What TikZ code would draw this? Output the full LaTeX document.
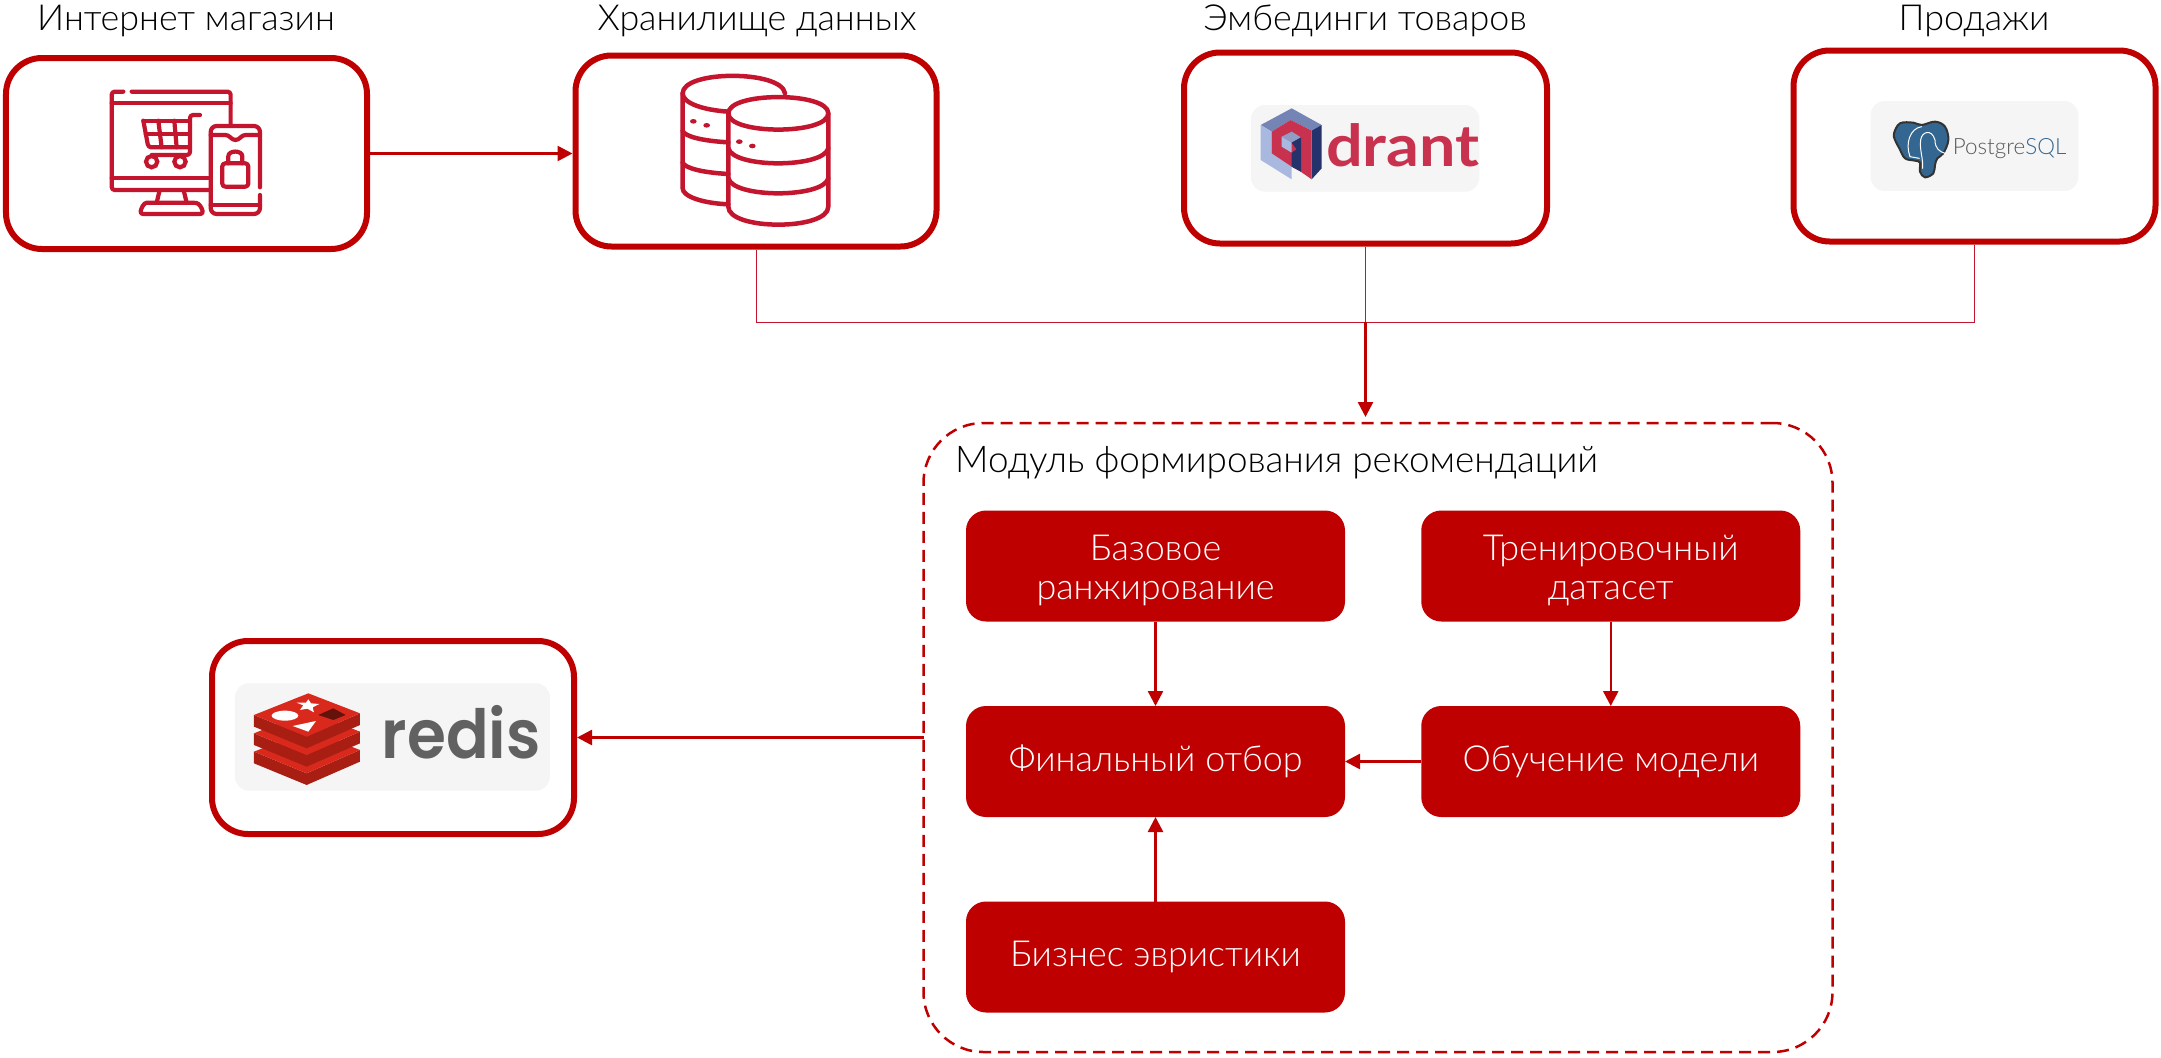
\documentclass[tikz,border=0pt]{standalone}
\usepackage{fontspec}
\usetikzlibrary{arrows.meta}
\setmainfont{Lato}[UprightFont=* Light,BoldFont=* Bold]
\newfontfamily\logofont{Poppins}[UprightFont=* SemiBold]
\newfontfamily\pgfontx{Lato}[UprightFont=* Light]
\definecolor{brand}{HTML}{BF0000}
\definecolor{icon}{HTML}{C4152E}
\definecolor{logobg}{HTML}{F5F5F5}
\definecolor{qred}{HTML}{C8324F}
\definecolor{qtop}{HTML}{7484B5}
\definecolor{qlight}{HTML}{A9B8DF}
\definecolor{qdark}{HTML}{25326B}
\definecolor{pgblue}{HTML}{336791}
\definecolor{rtop}{HTML}{D9291C}
\definecolor{rside}{HTML}{A81E12}
\tikzset{
  srcbox/.style={draw=brand,line width=6bp,rounded corners=36bp,fill=white,minimum width=#1,minimum height=191bp,inner sep=0pt,outer sep=3bp},
  srcbox/.default=362bp,
  stepbox/.style={fill=brand,rounded corners=20bp,minimum width=379bp,minimum height=111bp,inner sep=0pt,outer sep=0pt,text=white,align=center,font=\fontsize{36}{38.5}\selectfont},
  caption/.style={anchor=base,text=black,inner sep=0pt,font=\fontsize{36}{38}\selectfont},
  thick line/.style={draw=brand,line width=2.5bp,-{Triangle[length=15bp,width=15bp]}},
  thin line/.style={draw=icon,line width=1bp},
  iconline/.style={draw=icon,line width=4.2bp,line cap=round,line join=round,rounded corners=3bp},
  logopanel/.style={fill=logobg,rounded corners=14bp,inner sep=0pt,outer sep=0pt},
}
\begin{document}
\begin{tikzpicture}[x=1bp,y=-1bp]
\useasboundingbox (0,0) rectangle (2161,1058);

% source boxes
\node[srcbox=361bp] (shop) at (186.5,153.5) {};
\node[srcbox=361bp] (store) at (756,151) {};
\node[srcbox=363bp] (emb) at (1365.5,148) {};
\node[srcbox=362bp] (sales) at (1974.5,146) {};
\node[srcbox=362bp,minimum height=193bp] (redis) at (393,737.5) {};

% captions
\node[caption] (capshop) at (186,30) {Интернет магазин};
\node[caption] (capstore) at (757,30) {Хранилище данных};
\node[caption] (capemb) at (1365,30) {Эмбединги товаров};
\node[caption] (capsales) at (1974,30) {Продажи};

% module
\node[draw=brand,line width=2.5bp,dash pattern=on 12bp off 7bp,rounded corners=60bp,minimum width=909bp,minimum height=629bp,inner sep=0pt,outer sep=0pt] (module) at (1378,737.5) {};
\node[caption,anchor=base west,font=\fontsize{37}{38}\selectfont] (captitle) at (955,472) {Модуль формирования рекомендаций};

\node[stepbox] (base) at (1155.5,566) {\rule{0pt}{34bp}Базовое\\ранжирование};
\node[stepbox] (train) at (1610.75,566) {\rule{0pt}{34bp}Тренировочный\\датасет};
\node[stepbox] (final) at (1155.5,761.5) {Финальный отбор};
\node[stepbox] (fit) at (1610.75,761.5) {Обучение модели};
\node[stepbox] (biz) at (1155.5,957) {Бизнес эвристики};

% connectors
\coordinate (join) at (emb.south |- 0,322);
\draw[thick line] (shop.east) -- (store.west |- shop.east);
\draw[thin line] (store.south) |- (join);
\draw[thin line] (sales.south) |- (join);
\draw[thin line] (emb.south) -- (join);
\draw[thick line,shorten >=6bp] (join) -- (join |- module.north);
\draw[thick line] (module.west |- redis.east) -- (redis.east);
\draw[thick line] (base) -- (final);
\draw[thick line] (train) -- (fit);
\draw[thick line] (fit) -- (final);
\draw[thick line] (biz) -- (final);

% shop icon
\begin{scope}[shift={(80,70)},x=0.3333bp,y=-0.3333bp]
 \draw[iconline] (130,65) -- (95,65) -- (95,360) -- (390,360);
 \draw[iconline] (155,65) -- (452,65) -- (452,165);
 \draw[iconline] (95,100) -- (452,100);
 \draw[iconline] (95,325) -- (390,325);
 \draw[iconline] (238,365) -- (230,398);
 \draw[iconline] (312,365) -- (320,398);
 \draw[iconline] (200,398) -- (340,398) .. controls (358,400) and (366,415) .. (370,432) -- (180,432) .. controls (184,415) and (190,400) .. (200,398);
 \draw[iconline] (360,135) -- (330,135) -- (330,255) -- (215,255);
 \draw[iconline] (190,152) -- (330,152);
 \draw[iconline] (190,152) -- (205,232) -- (330,232);
 \draw[iconline] (197,192) -- (330,192);
 \draw[iconline] (235,152) -- (245,232);
 \draw[iconline] (283,152) -- (290,232);
 \draw[draw=icon,line width=4.2bp] (215,275) circle (17);
 \draw[draw=icon,line width=4.2bp] (300,275) circle (17);
 \draw[iconline,rounded corners=6bp] (540,352) -- (540,168) -- (392,168) -- (392,432) -- (540,432) -- (540,375);
 \draw[iconline] (392,195) -- (445,195) -- (458,210) -- (475,210) -- (488,195) -- (540,195);
 \draw[iconline] (392,405) -- (540,405);
 \draw[iconline] (427,280) rectangle (505,350);
 \draw[iconline] (445,280) -- (445,268) .. controls (445,240) and (487,240) .. (487,268) -- (487,280);
\end{scope}

% storage icon
\begin{scope}[shift={(660,60)},x=0.3333bp,y=-0.3333bp,every path/.style={draw=icon,line width=4.5bp,line cap=round,line join=round}]
 \draw (375,100) .. controls (365,30) and (68,30) .. (68,100) -- (68,385) .. controls (68,410) and (130,430) .. (205,433);
 \draw (68,100) .. controls (68,130) and (130,150) .. (205,155);
 \draw (68,213) .. controls (75,230) and (130,243) .. (205,247);
 \draw (68,308) .. controls (75,325) and (130,338) .. (205,342);
 \draw (205,160) .. controls (205,95) and (505,95) .. (505,160) .. controls (505,225) and (205,225) .. (205,160) -- cycle;
 \draw (205,160) -- (205,440) .. controls (205,512) and (505,512) .. (505,440) -- (505,160);
 \draw (205,265) .. controls (220,325) and (490,325) .. (505,265);
 \draw (205,355) .. controls (220,415) and (490,415) .. (505,355);
 \fill[icon,draw=none] (100,184) ellipse (10 and 7) (140,196) ellipse (10 and 7) (238,245) ellipse (10 and 7) (277,258) ellipse (10 and 7);
\end{scope}

% qdrant logo
\begin{scope}[shift={(1240,90)},x=0.3333bp,y=-0.3333bp]
 \fill[logopanel] (33,45) rectangle (718,305);
 \fill[qtop] (62,105) -- (155,55) -- (245,105) -- (215,122) -- (152,90) -- (95,125) -- cycle;
 \fill[qlight] (62,105) -- (95,125) -- (95,190) -- (155,230) -- (155,268) -- (62,210) -- cycle;
 \fill[qdark] (245,105) -- (245,235) -- (215,268) -- (215,122) -- cycle;
 \fill[qred] (95,125) -- (152,90) -- (215,122) -- (215,268) -- (182,245) -- (155,230) -- (95,190) -- cycle;
 \fill[qtop!80!white] (125,140) -- (155,125) -- (183,142) -- (155,158) -- cycle;
 \fill[qlight] (125,140) -- (155,158) -- (155,188) -- (125,170) -- cycle;
 \fill[qdark] (155,158) -- (183,142) -- (183,245) -- (155,230) -- (155,188) -- (170,178) -- (155,158) -- cycle;
 \node[anchor=base west,inner sep=0pt,text=qred,font=\fontsize{58}{58}\selectfont\bfseries] (qtext) at (258,230) {\scalebox{1.12}[1]{drant}};
\end{scope}

% postgres logo
\begin{scope}[shift={(1860,90)},x=0.3333bp,y=-0.3333bp]
 \fill[logopanel] (32,33) rectangle (655,303);
 \draw[fill=pgblue,draw=black!80,line width=2bp] plot[smooth cycle,tension=0.6] coordinates {(102,130) (120,100) (160,98) (185,105) (225,95) (255,110) (265,150) (250,190) (232,205) (225,225) (220,250) (195,262) (180,245) (180,218) (165,212) (135,205) (118,175) (105,150)};
 \draw[white,line width=1bp,line cap=round] (150,200) .. controls (135,160) and (150,115) .. (185,110);
 \draw[white,line width=1bp,line cap=round] (182,150) .. controls (185,125) and (215,115) .. (225,150) .. controls (225,175) and (238,185) .. (255,190);
 \draw[white,line width=1bp,line cap=round] (182,150) .. controls (178,180) and (190,205) .. (188,235);
 \draw[white,line width=1bp,line cap=round] (150,200) -- (178,205);
 \node[anchor=base west,inner sep=0pt,font=\pgfontx\fontsize{22.5}{22.5}\selectfont] (pgtext) at (278,195) {\textcolor{black!65}{Postgre}\textcolor{pgblue}{SQL}};
\end{scope}

% redis logo
\begin{scope}[shift={(180,620)},x=0.3333bp,y=-0.3333bp]
 \fill[logopanel] (165,190) rectangle (1110,512);
 \foreach \dy in {110,55,0}{
  \fill[rside] (222,\dy+285) -- (380,\dy+350) -- (540,\dy+280) -- (540,\dy+315) -- (380,\dy+385) -- (222,\dy+320) -- cycle;
  \fill[rtop] (222,\dy+285) -- (385,\dy+220) -- (540,\dy+280) -- (380,\dy+350) -- cycle;
 }
 \fill[white] (315,287) ellipse (40 and 15);
 \fill[white] (338,318) -- (408,303) -- (385,335) -- cycle;
 \fill[white] (385,238) -- (393,250) -- (418,252) -- (398,262) -- (402,277) -- (382,266) -- (360,270) -- (370,256) -- (350,248) -- (378,248) -- cycle;
 \fill[rside!60!black] (415,285) -- (460,265) -- (497,285) -- (460,300) -- cycle;
 \node[anchor=base west,inner sep=0pt,text=black!62,font=\logofont\fontsize{68}{68}\selectfont] (rtext) at (605,415) {\scalebox{0.93}[1]{redis}};
\end{scope}
\end{tikzpicture}
\end{document}
